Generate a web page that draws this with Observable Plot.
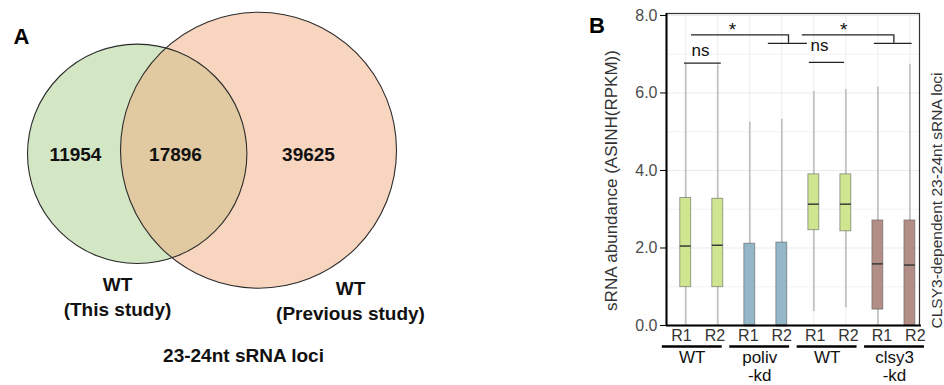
<!DOCTYPE html>
<html>
<head>
<meta charset="utf-8">
<script src="https://cdn.jsdelivr.net/npm/d3@7"></script>
<script src="https://cdn.jsdelivr.net/npm/@observablehq/plot@0.6"></script>
<style>
  body { margin: 0; background: #fff; }
  #fig { position: relative; width: 944px; height: 385px; overflow: hidden; font-family: "Liberation Sans", Arial, sans-serif; }
  #panelA { position: absolute; left: 0; top: 0; }
  #panelB { position: absolute; left: 580px; top: 0; }
</style>
</head>
<body>
<div id="fig"><div id="panelA"></div><div id="panelB"></div></div>
<script>
// ---- Panel A: overlap of 23-24nt sRNA loci between two WT datasets ----
const vennSets = ["WT\n(This study)", "WT\n(Previous study)"];
const vennOnly = [11954, 39625];
const vennShared = 17896;
const vennCaption = "23-24nt sRNA loci";

// ---- Panel B: per-sample box summaries of sRNA abundance, ASINH(RPKM) ----
const samples = ["R1", "R2", "R1", "R2", "R1", "R2", "R1", "R2"];
const sampleGroup = ["WT", "WT", "poliv-kd", "poliv-kd", "WT2", "WT2", "clsy3-kd", "clsy3-kd"];
const groupLabels = ["WT", "poliv\n-kd", "WT", "clsy3\n-kd"];
const whiskerLow = [0, 0, 0, 0, 0.36, 0.46, 0, 0];
const q1 = [0.99, 0.99, 0, 0, 2.46, 2.43, 0.41, 0];
const median = [2.05, 2.07, 0, 0, 3.13, 3.13, 1.59, 1.56];
const q3 = [3.29, 3.27, 2.11, 2.14, 3.90, 3.90, 2.71, 2.71];
const whiskerHigh = [6.74, 6.72, 5.25, 5.32, 6.04, 6.09, 6.15, 6.74];
const yTicks = [0, 2, 4, 6, 8];
const sigLabels = ["ns", "*", "ns", "*"];

const FONT = '"Liberation Sans", Arial, sans-serif';

// ===== Panel A =====
// Hand-placed Venn layout (pixel units); circle radii come from the set totals.
const vennLayout = {
  centers: [[136.7, 153.3], [258, 149.7]],
  countPos: [[75, 154], [308, 154]],
  sharedPos: [175, 154],
  namePos: [[117, 283], [350, 287]],
  captionPos: [243, 355]
};
const setTotals = vennOnly.map(v => v + vennShared);
const circles = [0, 1].map(i => ({
  cx: vennLayout.centers[i][0], cy: vennLayout.centers[i][1], total: setTotals[i]
}));
const rScale = {type: "pow", exponent: 0.35, domain: [0, d3.max(setTotals)], range: [0, 138]};
const vennFill = ["#d4e7c5", "#f8d5bf"];
const lensFill = "#e1c9a1";

const svgA = Plot.plot({
  width: 580, height: 385,
  margin: 0,
  x: {domain: [0, 580], range: [0, 580], axis: null},
  y: {domain: [0, 385], range: [0, 385], axis: null},
  r: rScale,
  style: {fontFamily: FONT, background: "transparent"},
  marks: [
    Plot.dot([circles[0]], {x: "cx", y: "cy", r: "total", fill: vennFill[0], stroke: null}),
    Plot.dot([circles[1]], {x: "cx", y: "cy", r: "total", fill: vennFill[1], stroke: null}),
    Plot.dot([circles[0]], {x: "cx", y: "cy", r: "total", fill: lensFill, stroke: null}),
    Plot.dot(circles, {x: "cx", y: "cy", r: "total", fill: "none", stroke: "#2b2b2b", strokeWidth: 1.1}),
    Plot.text([0, 1], {
      x: i => vennLayout.countPos[i][0], y: i => vennLayout.countPos[i][1],
      text: i => String(vennOnly[i]), fontSize: 19, fontWeight: "bold", fill: "#111"
    }),
    Plot.text([vennShared], {
      x: () => vennLayout.sharedPos[0], y: () => vennLayout.sharedPos[1],
      text: d => String(d), fontSize: 19, fontWeight: "bold", fill: "#111"
    }),
    Plot.text([0, 1], {
      x: i => vennLayout.namePos[i][0], y: i => vennLayout.namePos[i][1],
      text: i => vennSets[i], lineAnchor: "middle", lineHeight: 1.33,
      dy: 12, fontSize: 19, fontWeight: "bold", fill: "#111"
    }),
    Plot.text([vennCaption], {
      x: () => vennLayout.captionPos[0], y: () => vennLayout.captionPos[1],
      fontSize: 19, fontWeight: "bold", fill: "#111"
    }),
    Plot.text(["A"], {
      frameAnchor: "top-left", textAnchor: "middle", lineAnchor: "middle",
      dx: 21, dy: 36, fontSize: 22, fontWeight: "bold", fill: "#000"
    })
  ]
});

// Clip the shared (lens) fill to the second circle so only the intersection shows.
{
  const groups = svgA.querySelectorAll('g[aria-label="dot"]');
  const rightCircle = groups[1].querySelector("circle");
  const lens = groups[2].querySelector("circle");
  const defs = d3.select(svgA).insert("defs", ":first-child");
  defs.append("clipPath").attr("id", "venn-lens")
    .append("circle")
    .attr("cx", rightCircle.getAttribute("cx"))
    .attr("cy", rightCircle.getAttribute("cy"))
    .attr("r", rightCircle.getAttribute("r"));
  lens.setAttribute("clip-path", "url(#venn-lens)");
}
document.getElementById("panelA").appendChild(svgA);

// ===== Panel B =====
const idx = d3.range(samples.length);
const pos = i => i + 1;                    // sample slot on the x axis
const labelPos = i => 0.868 + i * 1.043;   // replicate labels sit on an evenly spaced row
const half = 0.17;                         // half box width, in slot units
const groupIdx = d3.range(groupLabels.length);
const groupStart = g => 0.27 + g * 2.105;
const groupEnd = g => groupStart(g) + 1.87;

// significance brackets (x in sample-slot units, y in ASINH(RPKM) units)
const brackets = {
  spans: [
    {x1: 0.96, x2: 2.11, y: 6.77},
    {x1: 1.18, x2: 4.21, y: 7.50},
    {x1: 3.58, x2: 4.80, y: 7.28},
    {x1: 4.86, x2: 5.96, y: 6.79},
    {x1: 4.64, x2: 7.50, y: 7.50},
    {x1: 6.89, x2: 8.07, y: 7.28}
  ],
  drops: [
    {x: 4.21, y1: 7.28, y2: 7.50},
    {x: 7.50, y1: 7.28, y2: 7.50}
  ],
  labels: [
    {x: 1.46, y: 7.10},
    {x: 2.46, y: 7.62},
    {x: 5.18, y: 7.22},
    {x: 5.93, y: 7.62}
  ]
};

const svgB = Plot.plot({
  width: 364, height: 385,
  marginLeft: 86, marginRight: 25, marginTop: 13, marginBottom: 60,
  x: {domain: [0.4, 8.3], axis: null},
  y: {domain: [0, 8.05], axis: null},
  color: {domain: ["WT", "poliv-kd", "WT2", "clsy3-kd"], range: ["#cfe58f", "#93b6c8", "#cfe58f", "#b38e86"]},
  style: {fontFamily: FONT, background: "transparent"},
  marks: [
    // grid
    Plot.ruleY([1, 3, 5, 7], {stroke: "#f3f3f3", strokeWidth: 1}),
    Plot.ruleY(yTicks, {stroke: "#ebebeb", strokeWidth: 1}),
    Plot.ruleX(idx, {x: pos, stroke: "#ededed", strokeWidth: 1}),
    Plot.frame({stroke: "#333", strokeWidth: 1.2}),
    // whiskers
    Plot.ruleX(idx, {x: pos, y1: i => whiskerLow[i], y2: i => whiskerHigh[i], stroke: "#c2c2c2", strokeWidth: 1.8}),
    // boxes
    Plot.rect(idx, {
      x1: i => pos(i) - half, x2: i => pos(i) + half,
      y1: i => q1[i], y2: i => q3[i],
      fill: i => sampleGroup[i], stroke: "#555", strokeOpacity: 0.55, strokeWidth: 1
    }),
    // medians
    Plot.ruleY(idx, {x1: i => pos(i) - half, x2: i => pos(i) + half, y: i => median[i], stroke: "#3a3a3a", strokeWidth: 1.5}),
    // axes
    Plot.axisY({ticks: yTicks, tickFormat: d3.format(".1f"), tickSize: 6, tickPadding: 3, stroke: "#000", fill: "#4d4d4d", fontSize: 16, label: null}),
    Plot.ruleX([0.4], {y1: 0, y2: 8.05, stroke: "#000", strokeWidth: 2}),
    Plot.ruleY([0], {x1: 0.4, x2: 8.36, stroke: "#000", strokeWidth: 2}),
    // replicate labels
    Plot.text(idx, {x: labelPos, y: 0, dy: 10.5, text: i => samples[i], fontSize: 16, fill: "#333"}),
    // group underlines and labels
    Plot.ruleY(groupIdx, {x1: groupStart, x2: groupEnd, y: 0, dy: 21, stroke: "#000", strokeWidth: 2.4}),
    Plot.text(groupIdx, {
      x: g => (groupStart(g) + groupEnd(g)) / 2, y: 0, dy: 24,
      text: g => groupLabels[g], lineAnchor: "top", lineHeight: 1.1, fontSize: 17, fill: "#111"
    }),
    // significance annotations
    Plot.ruleY(brackets.spans, {x1: "x1", x2: "x2", y: "y", stroke: "#222", strokeWidth: 1.3}),
    Plot.ruleX(brackets.drops, {x: "x", y1: "y1", y2: "y2", stroke: "#222", strokeWidth: 1.3}),
    Plot.text(brackets.labels, {
      x: "x", y: "y", text: (d, i) => sigLabels[i],
      fontSize: (d, i) => sigLabels[i] === "*" ? 19 : 17,
      fontWeight: (d, i) => sigLabels[i] === "*" ? "bold" : "normal", fill: "#111"
    }),
    // titles
    Plot.text(["sRNA abundance (ASINH(RPKM))"], {
      frameAnchor: "left", textAnchor: "middle", rotate: -90, dx: -55, dy: 11, fontSize: 17, fill: "#333"
    }),
    Plot.text(["CLSY3-dependent 23-24nt sRNA loci"], {
      frameAnchor: "right", textAnchor: "middle", rotate: -90, dx: 17.5, dy: 31, fontSize: 15.5, fill: "#333"
    }),
    Plot.text(["B"], {
      frameAnchor: "top-left", textAnchor: "middle", lineAnchor: "middle",
      dx: -69.5, dy: 12.5, fontSize: 22, fontWeight: "bold", fill: "#000"
    })
  ]
});
document.getElementById("panelB").appendChild(svgB);
</script>
</body>
</html>
